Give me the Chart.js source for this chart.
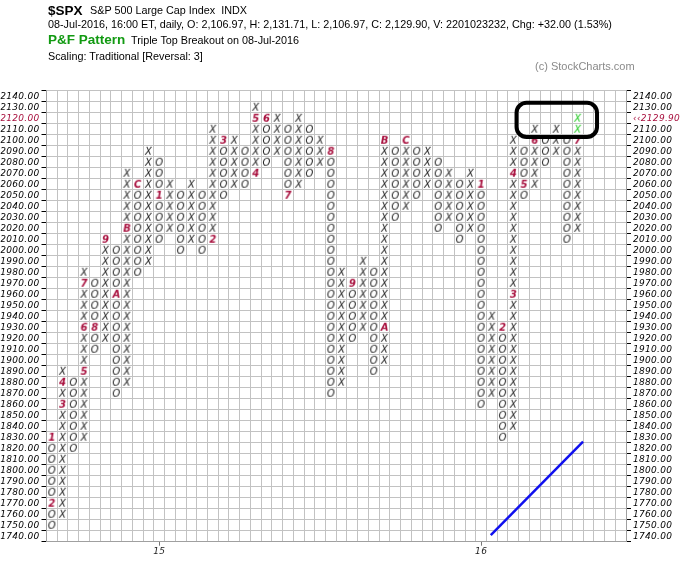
<!DOCTYPE html>
<html>
<head>
<meta charset="utf-8">
<script src="https://cdn.jsdelivr.net/npm/chart.js@4.4.1/dist/chart.umd.min.js"></script>
<style>
body { margin: 0; background: #fff; }
#wrap { position: relative; width: 700px; height: 574px; font-family: "Liberation Sans", Arial, sans-serif; color: #000; }
#wrap canvas { position: absolute; left: 0; top: 0; }
.t { position: absolute; white-space: nowrap; font-size: 10.8px; line-height: 12px; }
.big { font-size: 13.5px; font-weight: bold; line-height: 15px; }
</style>
</head>
<body>
<div id="wrap">
  <canvas id="pf" width="700" height="574"></canvas>
  <div class="t big" style="left:48px;top:2.8px">$SPX</div>
  <div class="t" style="left:90px;top:4.4px">S&amp;P 500 Large Cap Index&nbsp;&nbsp;INDX</div>
  <div class="t" style="left:48px;top:18.2px">08-Jul-2016, 16:00 ET, daily, O: 2,106.97, H: 2,131.71, L: 2,106.97, C: 2,129.90, V: 2201023232, Chg: +32.00 (1.53%)</div>
  <div class="t big" style="left:48px;top:32.1px;color:#129a12">P&amp;F Pattern</div>
  <div class="t" style="left:131px;top:34.4px">Triple Top Breakout on 08-Jul-2016</div>
  <div class="t" style="left:48px;top:49.5px">Scaling: Traditional [Reversal: 3]</div>
  <div class="t" style="left:535px;top:60px;color:#8a8a8a;font-size:11px">(c) StockCharts.com</div>
</div>
<script>
// columnas del P&F (0 = primera columna a la izquierda)
const colType = ['O','X','O','X','O','X','O','X','O','X',
                 'O','X','O','X','O','X','O','X','O','X',
                 'O','X','O','X','O','X','O','X','O','X',
                 'O','X','O','X','O','X','O','X','O','X',
                 'O','X','O','X','O','X','O','X','O','X'];
const colLow  = [1750,1760,1820,1830,1910,1920,1870,1880,1980,1990,
                 2010,2020,2000,2010,2000,2010,2050,2060,2060,2070,
                 2080,2090,2050,2060,2070,2080,1870,1880,1920,1930,
                 1890,1900,2030,2040,2050,2060,2020,2030,2010,2020,
                 1860,1870,1830,1840,2050,2060,2080,2090,2010,2020];
const colHigh = [1830,1890,1880,1980,1970,2010,2000,2070,2060,2090,
                 2080,2060,2050,2060,2050,2110,2100,2100,2090,2130,
                 2120,2120,2110,2120,2110,2100,2090,1980,1970,1990,
                 1980,2100,2090,2100,2090,2090,2080,2070,2060,2070,
                 2060,1940,1930,2100,2090,2110,2100,2110,2100,2120];

// marcas de mes (columna, precio, texto)
const monthCol   = [0,0,1,1,3,3,3,4,5,6,7,8,10,15,16,19,19,20,22,26,28,31,31,33,40,42,43,43,44,45,49];
const monthPrice = [1830,1770,1860,1880,1890,1930,1970,1930,2010,1960,2020,2060,2050,2010,2100,2070,2120,2120,2050,2090,1970,1930,2100,2100,2060,1930,1960,2070,2060,2100,2100];
const monthText  = ['1','2','3','4','5','6','7','8','9','A','B','C','1','2','3','4','5','6','7','8','9','A','B','C','1','2','3','4','5','6','7'];

// cajas del patron (verde)
const patternCol   = [49, 49];
const patternPrice = [2110, 2120];

// linea de tendencia
const trendCols   = [41.4, 50.0];
const trendPrices = [1741, 1826];

// ejes
const rowPrices = [2140,2130,2120,2110,2100,2090,2080,2070,2060,2050,2040,2030,2020,2010,2000,
                   1990,1980,1970,1960,1950,1940,1930,1920,1910,1900,1890,1880,1870,1860,1850,
                   1840,1830,1820,1810,1800,1790,1780,1770,1760,1750,1740];
const yearCols   = [10, 40];
const yearLabels = ['15', '16'];
const lastRow = 2120;
const lastPrice = '2129.90';
const numCols = 54;

const RED = '#a8103e';
const GREEN = '#22c922';
const boxSize = 10;

function glyph(txt, color, bold) {
    const c = document.createElement('canvas');
    c.width = 11; c.height = 11;
    const g = c.getContext('2d');
    g.font = (bold ? 'italic bold ' : 'italic ') + '10px "DejaVu Sans"';
    g.fillStyle = color;
    g.textAlign = 'center';
    g.textBaseline = 'middle';
    g.fillText(txt, 5.5, 6);
    return c;
}
const glyphX = glyph('X', '#222', false);
const glyphO = glyph('O', '#222', false);
const glyphP = glyph('X', GREEN, false);

function isSpecial(col, price) {
    for (let i = 0; i < monthCol.length; i++) {
        if (monthCol[i] === col && monthPrice[i] === price) return true;
    }
    for (let i = 0; i < patternCol.length; i++) {
        if (patternCol[i] === col && patternPrice[i] === price) return true;
    }
    return false;
}

const xPts = [], oPts = [];
colType.forEach((t, i) => {
    for (let p = colLow[i]; p <= colHigh[i]; p += boxSize) {
        if (isSpecial(i, p)) continue;
        (t === 'X' ? xPts : oPts).push({ x: i + 0.5, y: p });
    }
});
const monthPts = monthCol.map((c, i) => ({ x: c + 0.5, y: monthPrice[i] }));
const monthStyles = monthText.map(s => glyph(s, RED, true));
const patternPts = patternCol.map((c, i) => ({ x: c + 0.5, y: patternPrice[i] }));
const trendPts = trendCols.map((c, i) => ({ x: c, y: trendPrices[i] }));

const yMin = 1735, yMax = 2145;
const bounds = [];
for (let v = yMin; v <= yMax; v += boxSize) bounds.push({ value: v });
const colLines = [];
for (let c = 0; c <= numCols; c++) colLines.push({ value: c });

const tickFont = { family: 'DejaVu Sans', size: 9, style: 'italic' };

// recuadro del patron y espaciado de letras
const extras = {
    id: 'extras',
    beforeDraw(chart) {
        chart.ctx.letterSpacing = '0.3px';
    },
    afterDatasetsDraw(chart) {
        const ctx = chart.ctx;
        const xs = chart.scales.x, ys = chart.scales.y;
        const l = xs.getPixelForValue(43.8), r = xs.getPixelForValue(51.3);
        const t = ys.getPixelForValue(2134), b = ys.getPixelForValue(2103);
        ctx.save();
        ctx.lineWidth = 4;
        ctx.strokeStyle = '#000';
        ctx.beginPath();
        ctx.roundRect(l, t, r - l, b - t, 10);
        ctx.stroke();
        ctx.restore();
    }
};

new Chart(document.getElementById('pf'), {
    type: 'scatter',
    data: {
        datasets: [
            { data: xPts, pointStyle: glyphX, pointRadius: 5 },
            { data: oPts, pointStyle: glyphO, pointRadius: 5 },
            { data: monthPts, pointStyle: monthStyles, pointRadius: 5 },
            { data: patternPts, pointStyle: glyphP, pointRadius: 5 },
            { type: 'line', data: trendPts, borderColor: '#1010ee', borderWidth: 2.5, pointRadius: 0, fill: false }
        ]
    },
    options: {
        responsive: false,
        animation: false,
        events: [],
        layout: { padding: { left: 0.5, right: 0, top: 90.7, bottom: 0 } },
        plugins: { legend: { display: false }, tooltip: { enabled: false } },
        scales: {
            x: {
                type: 'linear', position: 'bottom', min: 0, max: numCols, weight: 0,
                afterBuildTicks: s => { s.ticks = colLines.slice(); },
                ticks: { display: false },
                grid: { color: '#c2c2c2', drawTicks: false },
                border: { color: '#a0a0a0' },
                afterFit: s => { s.height = 0; }
            },
            xl: {
                type: 'linear', position: 'bottom', min: 0, max: numCols, weight: 1,
                afterBuildTicks: s => { s.ticks = yearCols.map(c => ({ value: c + 0.5 })); },
                ticks: {
                    font: tickFont, color: '#222', padding: 1, maxRotation: 0, autoSkip: false,
                    callback: (v, i) => yearLabels[i]
                },
                grid: { drawOnChartArea: false, tickLength: 4, tickColor: '#777' },
                border: { display: false },
                afterFit: s => { s.height = 32.3; }
            },
            y: {
                type: 'linear', position: 'left', min: yMin, max: yMax, weight: 0,
                afterBuildTicks: s => { s.ticks = bounds.slice(); },
                ticks: { display: false },
                grid: { color: '#c2c2c2', tickLength: 5, tickColor: '#000' },
                border: { color: '#a0a0a0' },
                afterFit: s => { s.width = 5; }
            },
            yl: {
                type: 'linear', position: 'left', min: yMin, max: yMax, weight: 1,
                afterBuildTicks: s => { s.ticks = rowPrices.map(v => ({ value: v })); },
                ticks: {
                    font: tickFont, padding: 2, autoSkip: false,
                    color: c => (c.tick && c.tick.value === lastRow ? RED : '#000'),
                    callback: v => v.toFixed(2)
                },
                grid: { display: false, drawTicks: false, tickLength: 0 },
                border: { display: false },
                afterFit: s => { s.width = 41; }
            },
            yr: {
                type: 'linear', position: 'right', min: yMin, max: yMax, weight: 0,
                afterBuildTicks: s => { s.ticks = bounds.slice(); },
                ticks: { display: false },
                grid: { drawOnChartArea: false, tickLength: 5, tickColor: '#000' },
                border: { color: '#a0a0a0' },
                afterFit: s => { s.width = 5; }
            },
            yrl: {
                type: 'linear', position: 'right', min: yMin, max: yMax, weight: 1,
                afterBuildTicks: s => { s.ticks = rowPrices.map(v => ({ value: v })); },
                ticks: {
                    font: tickFont, padding: 2, autoSkip: false,
                    color: c => (c.tick && c.tick.value === lastRow ? RED : '#000'),
                    callback: v => (v === lastRow ? '\u2039\u2039' + lastPrice : v.toFixed(2))
                },
                grid: { display: false, drawTicks: false, tickLength: 0 },
                border: { display: false },
                afterFit: s => { s.width = 69; }
            }
        }
    },
    plugins: [extras]
});
</script>
</body>
</html>
